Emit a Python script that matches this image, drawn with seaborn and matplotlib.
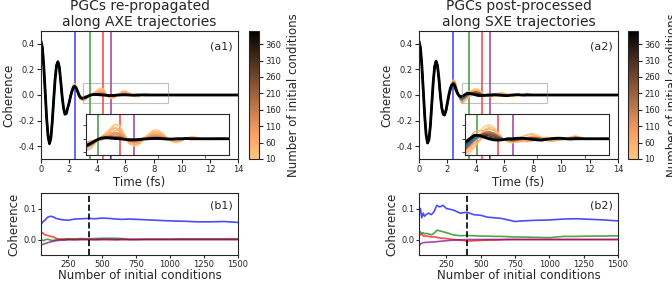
import numpy as np
import pandas as pd
import matplotlib
matplotlib.use("Agg")
import matplotlib.pyplot as plt
import seaborn as sns
from matplotlib.colors import Normalize
from matplotlib.cm import ScalarMappable

sns.set_style("ticks")
plt.rcParams['font.family'] = ['DejaVu Sans']
plt.rcParams['axes.unicode_minus'] = False

# ---- top panels: coherence vs time ----
# sampling grid in fs: 0.1 fs up to 3 fs, 0.2 fs up to 9 fs, then 1 fs
time_fs = np.round(np.concatenate([np.arange(0, 3.01, 0.1), np.arange(3.2, 9.01, 0.2), [10, 11, 12, 13, 14]]), 2)

# AXE, 400 initial conditions (black)
axe_400 = [0.42, 0.37, 0.22, 0.02, -0.18, -0.32, -0.38, -0.34, -0.21, -0.04,
           0.12, 0.23, 0.26, 0.22, 0.11, -0.01, -0.10, -0.15, -0.145, -0.10,
           -0.06, -0.01, 0.03, 0.06, 0.068, 0.055, 0.03, 0.0, -0.018, -0.026, -0.025,
           -0.016, -0.006, 0.002, 0.004, 0.003, 0.001, 0.0, -0.002, -0.004, -0.004,
           -0.003, -0.001, 0.0, 0.001, 0.001, 0.0, -0.001, -0.001, 0.0, 0.0,
           0.001, 0.0, 0.0, 0.0, 0.0, 0.0, 0.0, 0.0, 0.0, 0.0,
           0.0, 0.0, 0.0, 0.0, 0.0]
# AXE, all 1500 initial conditions (blue)
axe_ref = [0.42, 0.37, 0.22, 0.02, -0.18, -0.32, -0.38, -0.34, -0.21, -0.04,
           0.12, 0.23, 0.26, 0.22, 0.11, -0.01, -0.10, -0.15, -0.145, -0.10,
           -0.06, -0.015, 0.025, 0.05, 0.055, 0.045, 0.022, -0.004, -0.02, -0.027, -0.028,
           -0.02, -0.008, 0.0, 0.002, 0.002, 0.001, 0.0, -0.001, -0.002, -0.002,
           -0.002, -0.001, 0.0, 0.0, 0.001, 0.0, 0.0, -0.001, 0.0, 0.0,
           0.0, 0.0, 0.0, 0.0, 0.0, 0.0, 0.0, 0.0, 0.0, 0.0,
           0.0, 0.0, 0.0, 0.0, 0.0]
# SXE, 400 initial conditions (black)
sxe_400 = [0.42, 0.37, 0.23, 0.04, -0.16, -0.31, -0.375, -0.35, -0.24, -0.07,
           0.10, 0.22, 0.265, 0.23, 0.13, 0.0, -0.10, -0.15, -0.155, -0.12,
           -0.06, 0.0, 0.05, 0.078, 0.085, 0.075, 0.045, 0.015, -0.002, -0.01, -0.014,
           0.0, 0.013, 0.012, 0.006, 0.0, -0.004, -0.005, -0.003, 0.0, 0.0,
           0.002, 0.002, 0.0, -0.002, -0.004, -0.005, -0.002, 0.0, 0.002, 0.002,
           0.0, -0.001, 0.0, 0.0, 0.0, 0.0, 0.0, 0.0, 0.0, 0.0,
           0.0, 0.0, 0.0, 0.0, 0.0]
# SXE, all 1500 initial conditions (blue)
sxe_ref = [0.42, 0.37, 0.23, 0.04, -0.16, -0.31, -0.375, -0.35, -0.24, -0.07,
           0.10, 0.22, 0.26, 0.23, 0.13, 0.0, -0.10, -0.15, -0.155, -0.12,
           -0.055, 0.0, 0.035, 0.05, 0.06, 0.055, 0.035, 0.01, -0.008, -0.02, -0.026,
           -0.018, 0.0, 0.01, 0.008, 0.002, -0.002, -0.002, -0.002, 0.0, 0.0,
           0.001, 0.001, 0.0, -0.001, -0.002, -0.003, -0.001, 0.0, 0.001, 0.001,
           0.0, 0.0, 0.0, 0.0, 0.0, 0.0, 0.0, 0.0, 0.0, 0.0,
           0.0, 0.0, 0.0, 0.0, 0.0]

# spread of the small-sample curves around the 400 curve, t = 1.0 ... 9.0 fs
axe_dev_a = [0.0, 0.0, 0.0, 0.0, 0.0, 0.0, 0.0, 0.0, 0.0, 0.0,
             0.0, 0.01, 0.02, 0.02, 0.01, -0.005, -0.015, -0.02, -0.015, -0.01, -0.012,
             -0.015, -0.008, 0.0, 0.015, 0.035, 0.048, 0.04, 0.01, -0.015, -0.018,
             -0.01, 0.002, 0.015, 0.024, 0.022, 0.012, 0.0, -0.008, -0.01, -0.006,
             0.002, 0.006, 0.004, 0.0, -0.002, 0.0, 0.002, 0.003, 0.001, 0.0]
axe_dev_b = [0.0, 0.0, 0.0, 0.0, 0.0, 0.0, 0.0, 0.0, 0.0, 0.0,
             -0.01, -0.01, 0.0, 0.01, 0.015, 0.015, 0.008, 0.0, -0.008, 0.01, 0.02,
             0.018, 0.005, -0.008, -0.01, 0.0, 0.015, 0.02, 0.012, 0.0, -0.01,
             -0.012, -0.006, 0.004, 0.012, 0.015, 0.012, 0.004, -0.004, -0.006, -0.004,
             0.0, 0.003, 0.003, 0.001, 0.0, 0.0, 0.0, 0.0, 0.0, 0.0]
sxe_dev_a = [0.0, -0.01, -0.02, -0.01, 0.01, 0.02, 0.02, 0.01, -0.01, -0.025,
             -0.03, -0.02, 0.0, 0.02, 0.03, 0.03, 0.02, 0.0, -0.015, -0.025, -0.03,
             -0.02, 0.0, 0.02, 0.04, 0.05, 0.045, 0.025, 0.0, -0.012, -0.015,
             -0.008, 0.005, 0.018, 0.025, 0.02, 0.008, -0.005, -0.012, -0.01, -0.004,
             0.004, 0.008, 0.01, 0.006, 0.0, -0.003, -0.002, 0.0, 0.001, 0.0]
sxe_dev_b = [0.02, 0.03, 0.0, -0.03, -0.05, -0.04, -0.01, 0.02, 0.03, 0.02,
             0.0, -0.02, -0.025, -0.01, 0.01, 0.025, 0.03, 0.02, 0.0, -0.02, -0.035,
             -0.04, -0.045, -0.03, -0.01, 0.005, 0.01, 0.008, 0.003, 0.0, -0.003,
             -0.01, -0.015, -0.018, -0.015, -0.005, 0.005, 0.01, 0.008, 0.0, -0.005,
             -0.004, 0.0, 0.003, 0.002, 0.0, 0.0, 0.0, 0.0, 0.0, 0.0]

n_ic = [10, 20, 30, 40, 50, 65, 80, 100, 125, 150, 180, 220, 260, 300, 350]
axe_w_a = [1.0, 0.75, 0.55, 0.9, 0.6, 0.35, 0.5, 0.3, 0.25, 0.2, 0.15, 0.1, 0.08, 0.05, 0.03]
axe_w_b = [0.3, 1.0, -0.6, -0.3, 0.7, 0.8, -0.2, 0.5, 0.3, -0.2, 0.15, 0.1, 0.05, 0.05, 0.02]
sxe_w_a = [1.0, 0.6, 0.8, 0.3, 0.5, 0.7, 0.2, 0.4, 0.3, 0.25, 0.5, 0.4, 0.3, 0.2, 0.1]
sxe_w_b = [0.2, 1.0, 0.6, 0.9, -0.3, 0.4, 0.7, 0.5, 0.35, 0.4, 0.35, 0.3, 0.2, 0.12, 0.06]

t_marks = [2.4, 3.5, 4.4, 5.0]
mark_colors = ['blue', 'green', 'red', 'purple']

# ---- bottom panels: coherence at the marked times vs number of initial conditions ----
n_conv = [50, 60, 70, 80, 90, 100, 120, 140, 160, 180, 200, 225, 250, 300, 350, 400, 450, 500,
          550, 600, 650, 700, 750, 800, 900, 1000, 1100, 1200, 1300, 1400, 1500]
axe_t24 = [0.048, 0.055, 0.06, 0.062, 0.068, 0.072, 0.075, 0.073, 0.068, 0.066, 0.064, 0.063, 0.062,
           0.066, 0.067, 0.068, 0.067, 0.069, 0.068, 0.066, 0.065, 0.066, 0.065, 0.064, 0.062, 0.06,
           0.059, 0.057, 0.057, 0.058, 0.055]
axe_t35 = [-0.003, -0.002, -0.004, -0.001, 0.0, 0.001, -0.002, -0.003, -0.001, 0.0, 0.001, 0.002, 0.002,
           0.002, 0.003, 0.002, 0.003, 0.004, 0.004, 0.004, 0.003, 0.0, 0.0, 0.001, 0.001, 0.001,
           0.002, 0.002, 0.002, 0.002, 0.002]
axe_t44 = [0.025, 0.022, 0.018, 0.015, 0.014, 0.013, 0.01, 0.008, 0.004, 0.001, 0.0, 0.0, 0.001,
           0.0, 0.0, 0.0, -0.001, 0.0, 0.0, -0.001, 0.0, 0.0, 0.0, 0.0, 0.0, 0.0,
           0.0, 0.0, 0.0, 0.0, 0.0]
axe_t50 = [-0.018, -0.016, -0.015, -0.013, -0.012, -0.01, -0.008, -0.006, -0.004, -0.003, -0.002, -0.002, -0.001,
           -0.001, 0.0, 0.0, 0.0, 0.0, 0.0, 0.0, 0.0, 0.0, 0.0, 0.0, 0.0, 0.0,
           0.0, 0.0, 0.0, 0.0, 0.0]
sxe_t24 = [0.08, 0.1, 0.07, 0.085, 0.075, 0.08, 0.085, 0.08, 0.09, 0.11, 0.105, 0.11, 0.1,
           0.095, 0.085, 0.088, 0.08, 0.078, 0.072, 0.07, 0.068, 0.063, 0.058, 0.06, 0.062, 0.063,
           0.066, 0.067, 0.065, 0.063, 0.06]
sxe_t35 = [0.015, 0.025, 0.02, 0.022, 0.018, 0.02, 0.018, 0.015, 0.02, 0.03, 0.028, 0.025, 0.022,
           0.015, 0.012, 0.013, 0.012, 0.011, 0.011, 0.01, 0.01, 0.009, 0.008, 0.008, 0.007, 0.006,
           0.01, 0.01, 0.011, 0.011, 0.012]
sxe_t44 = [0.02, 0.015, 0.018, 0.012, 0.01, 0.012, 0.01, 0.008, 0.009, 0.007, 0.005, 0.004, 0.003,
           0.0, -0.002, -0.005, -0.004, -0.003, -0.002, -0.002, -0.001, 0.0, 0.0, 0.0, 0.0, 0.0,
           0.0, 0.0, 0.0, 0.0, 0.0]
sxe_t50 = [-0.022, -0.015, -0.012, -0.01, -0.01, -0.009, -0.009, -0.008, -0.008, -0.007, -0.006, -0.005, -0.004,
           -0.002, -0.001, 0.0, 0.0, 0.0, 0.0, 0.0, 0.0, 0.0, 0.0, 0.0, 0.0, 0.0,
           0.0, 0.0, 0.0, 0.0, 0.0]


def family_df(base, dev_a, dev_b, w_a, w_b):
    full_a = np.concatenate([np.zeros(10), dev_a, np.zeros(5)])
    full_b = np.concatenate([np.zeros(10), dev_b, np.zeros(5)])
    frames = []
    for n, wa, wb in zip(n_ic, w_a, w_b):
        frames.append(pd.DataFrame({'time': time_fs,
                                    'coherence': np.array(base) + wa * full_a + wb * full_b,
                                    'n': n}))
    return pd.concat(frames, ignore_index=True)


def draw_curves(ax, fam, ref, base, marks):
    for t, c in zip(t_marks, mark_colors):
        if t in marks:
            ax.axvline(t, color=c, alpha=0.7, lw=1.2, zorder=1)
    sns.lineplot(data=fam, x='time', y='coherence', hue='n', palette='copper_r', hue_norm=(10, 400),
                 lw=0.9, estimator=None, legend=False, ax=ax)
    sns.lineplot(x=time_fs, y=ref, color='tab:blue', lw=1.5, ax=ax)
    sns.lineplot(x=time_fs, y=base, color='black', lw=2, ax=ax)


W, H = 672, 283
fig = plt.figure(figsize=(W / 100, H / 100), dpi=100)


def box(l, t, r, b):
    return [l / W, 1 - b / H, (r - l) / W, (b - t) / H]


panels = [
    (box(41, 31, 238, 159), box(249, 31, 259, 159), box(41, 193, 238, 255),
     'PGCs re-propagated\nalong AXE trajectories', '(a1)', '(b1)',
     family_df(axe_400, axe_dev_a, axe_dev_b, axe_w_a, axe_w_b), axe_ref, axe_400,
     [axe_t24, axe_t35, axe_t44, axe_t50]),
    (box(419, 31, 618, 159), box(628, 31, 638, 159), box(419, 193, 618, 255),
     'PGCs post-processed\nalong SXE trajectories', '(a2)', '(b2)',
     family_df(sxe_400, sxe_dev_a, sxe_dev_b, sxe_w_a, sxe_w_b), sxe_ref, sxe_400,
     [sxe_t24, sxe_t35, sxe_t44, sxe_t50]),
]

for pos_a, pos_c, pos_b, title, lab_a, lab_b, fam, ref, base, conv in panels:
    ax = fig.add_axes(pos_a)
    draw_curves(ax, fam, ref, base, t_marks)
    ax.set_xlim(0, 14)
    ax.set_ylim(-0.5, 0.5)
    ax.set_xticks(range(0, 15, 2))
    ax.set_yticks([-0.4, -0.2, 0.0, 0.2, 0.4])
    ax.set_xlabel('Time (fs)', fontsize=8.5, labelpad=1)
    ax.set_ylabel('Coherence', fontsize=8.5, labelpad=2)
    ax.set_title(title, fontsize=10, pad=3.5)
    ax.text(0.975, 0.92, lab_a, transform=ax.transAxes, ha='right', va='top', fontsize=8)
    ax.tick_params(labelsize=6, length=3, width=0.8, pad=1.5)

    axins = ax.inset_axes([0.23, 0.03, 0.725, 0.32])
    draw_curves(axins, fam, ref, base, t_marks[1:])
    axins.set_xlim(3, 9)
    axins.set_ylim(-0.06, 0.09)
    axins.set_xticks([4, 6, 8])
    axins.set_yticks([-0.05, 0.0, 0.05])
    axins.set_xlabel('')
    axins.set_ylabel('')
    axins.tick_params(labelleft=False, labelbottom=False, length=2, width=0.6)
    for s in axins.spines.values():
        s.set_linewidth(0.8)
    ind = ax.indicate_inset_zoom(axins, edgecolor='gray', lw=0.8)
    for k, con in enumerate(ind.connectors):
        if k != 3:
            con.set_alpha(0)

    cax = fig.add_axes(pos_c)
    cb = fig.colorbar(ScalarMappable(norm=Normalize(10, 400), cmap='copper_r'), cax=cax,
                      ticks=list(range(10, 400, 50)))
    cb.set_label('Number of initial conditions', fontsize=8.5)
    cb.ax.tick_params(labelsize=6, length=3, width=0.8, pad=1.5)
    cb.outline.set_linewidth(0.8)

    axb = fig.add_axes(pos_b)
    conv_df = pd.concat([pd.DataFrame({'n': n_conv, 'coherence': v, 'time': t})
                         for v, t in zip(conv, t_marks)], ignore_index=True)
    sns.lineplot(data=conv_df, x='n', y='coherence', hue='time',
                 palette=dict(zip(t_marks, mark_colors)), alpha=0.7, lw=1.2,
                 estimator=None, legend=False, ax=axb)
    axb.axvline(400, color='black', ls='--', lw=1.2)
    axb.set_xlim(50, 1500)
    axb.set_ylim(-0.05, 0.15)
    axb.set_xticks([250, 500, 750, 1000, 1250, 1500])
    axb.set_yticks([0.0, 0.1])
    axb.set_xlabel('Number of initial conditions', fontsize=8.5, labelpad=0)
    axb.set_ylabel('Coherence', fontsize=8.5, labelpad=2)
    axb.text(0.975, 0.88, lab_b, transform=axb.transAxes, ha='right', va='top', fontsize=8)
    axb.tick_params(labelsize=6, length=2.5, width=0.8, pad=1)

fig.savefig('out.png', dpi=100)
